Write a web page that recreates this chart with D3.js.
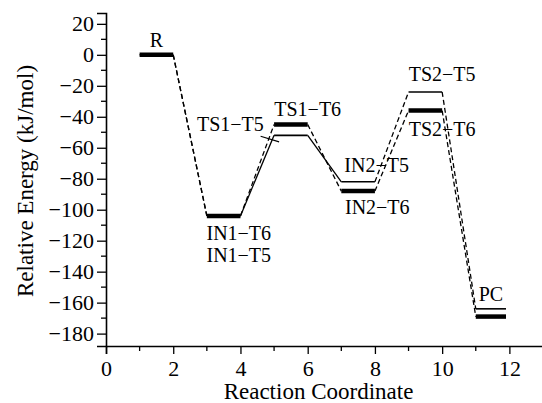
<!DOCTYPE html>
<html lang="en">
<head>
<meta charset="utf-8">
<script src="https://d3js.org/d3.v7.min.js"></script>
<style>
  body { margin: 0; background: #fff; }
</style>
</head>
<body>
<script>
// reaction path, level bars go from xStart to xEnd
var stages = ["R", "IN1", "TS1", "IN2", "TS2", "PC"];
var xStart = [1, 3, 5, 7, 9, 11];
var xEnd = [2, 4, 6, 8, 10, 11.9];
var energyT5 = [0, -104, -52, -82, -24, -164];
var energyT6 = [0, -104, -45, -88, -36, -169];
// connector style between stage i and i+1 for the T5 path
var t5Links = ["dash", "solid", "solid", "dash", "dash"];

var yTicks = [20, 0, -20, -40, -60, -80, -100, -120, -140, -160, -180];
var xTicks = [0, 2, 4, 6, 8, 10, 12];

// annotation text, anchored in data units
var labels = [
  ["R", 1.5, 5],
  ["TS1\u2212T6", 6.0, -39.5],
  ["TS1\u2212T5", 3.7, -49.2],
  ["IN1\u2212T6", 3.95, -119.3],
  ["IN1\u2212T5", 3.95, -133.6],
  ["IN2\u2212T5", 8.05, -75.7],
  ["IN2\u2212T6", 8.07, -102.8],
  ["TS2\u2212T5", 10.0, -16.9],
  ["TS2\u2212T6", 10.0, -52.4],
  ["PC", 11.45, -158.9]
];
var leader = [[4.6, -52.6], [5.15, -56.2]];

var FONT = "Liberation Serif";
var W = 542, H = 403;
var x = d3.scaleLinear().domain([0, 13]).range([106, 543]);
var y = d3.scaleLinear().domain([-188, 27]).range([346, 13]);

var svg = d3.select("body").append("svg").attr("width", W).attr("height", H);

// axes
var yAxis = d3.axisLeft(y).tickValues(yTicks).tickSize(9).tickPadding(3)
  .tickFormat(function(d) { return d < 0 ? "\u2212" + Math.abs(d) : d; });
var gy = svg.append("g").attr("transform", "translate(" + x(0) + ",0)").call(yAxis);
var yMinor = d3.range(-180, 21, 10).filter(function(v) { return v % 20 != 0; });
gy.selectAll(".minor").data(yMinor).enter().append("line")
  .attr("x1", -5).attr("x2", 0).attr("y1", function(d) { return y(d); }).attr("y2", function(d) { return y(d); })
  .attr("stroke", "#000").attr("stroke-width", 1.3);

var xAxis = d3.axisBottom(x).tickValues(xTicks).tickSize(8).tickPadding(6);
var gx = svg.append("g").attr("transform", "translate(0," + y(-188) + ")").call(xAxis);
gx.selectAll(".minor").data([1, 3, 5, 7, 9, 11]).enter().append("line")
  .attr("y1", 0).attr("y2", 5).attr("x1", function(d) { return x(d); }).attr("x2", function(d) { return x(d); })
  .attr("stroke", "#000").attr("stroke-width", 1.3);

svg.selectAll(".domain").attr("stroke", "#000").attr("stroke-width", 1.6);
svg.selectAll(".tick line").attr("stroke", "#000").attr("stroke-width", 1.3);
svg.selectAll(".tick text").attr("fill", "#000").attr("font-family", FONT).attr("font-size", 22);

svg.append("text").attr("x", (x(0) + x(13)) / 2 - 6).attr("y", 399).attr("text-anchor", "middle")
  .attr("font-family", FONT).attr("font-size", 23).text("Reaction Coordinate");
svg.append("text").attr("transform", "translate(33," + 181 + ") rotate(-90)").attr("text-anchor", "middle")
  .attr("font-family", FONT).attr("font-size", 23).text("Relative Energy (kJ/mol)");

// connectors
function links(energy, styleFor) {
  for (var i = 0; i < stages.length - 1; i++) {
    var dashed = styleFor(i) == "dash";
    svg.append("line")
      .attr("x1", x(xEnd[i])).attr("y1", y(energy[i]))
      .attr("x2", x(xStart[i + 1])).attr("y2", y(energy[i + 1]))
      .attr("stroke", "#000").attr("stroke-width", 1.3)
      .attr("stroke-dasharray", dashed ? "5,3" : null);
  }
}
links(energyT6, function() { return "dash"; });
links(energyT5, function(i) { return t5Links[i]; });

// level bars
svg.selectAll(".t5").data(stages).enter().append("line")
  .attr("x1", function(d, i) { return x(xStart[i]); }).attr("x2", function(d, i) { return x(xEnd[i]); })
  .attr("y1", function(d, i) { return y(energyT5[i]); }).attr("y2", function(d, i) { return y(energyT5[i]); })
  .attr("stroke", "#000").attr("stroke-width", 1.6);
svg.selectAll(".t6").data(stages).enter().append("line")
  .attr("x1", function(d, i) { return x(xStart[i]); }).attr("x2", function(d, i) { return x(xEnd[i]); })
  .attr("y1", function(d, i) { return y(energyT6[i]); }).attr("y2", function(d, i) { return y(energyT6[i]); })
  .attr("stroke", "#000").attr("stroke-width", 4.5);

svg.append("line")
  .attr("x1", x(leader[0][0])).attr("y1", y(leader[0][1]))
  .attr("x2", x(leader[1][0])).attr("y2", y(leader[1][1]))
  .attr("stroke", "#000").attr("stroke-width", 1.1);

svg.selectAll(".lbl").data(labels).enter().append("text")
  .attr("x", function(d) { return x(d[1]); }).attr("y", function(d) { return y(d[2]); })
  .attr("text-anchor", "middle").attr("font-family", FONT).attr("font-size", 20)
  .text(function(d) { return d[0]; });
</script>
</body>
</html>
